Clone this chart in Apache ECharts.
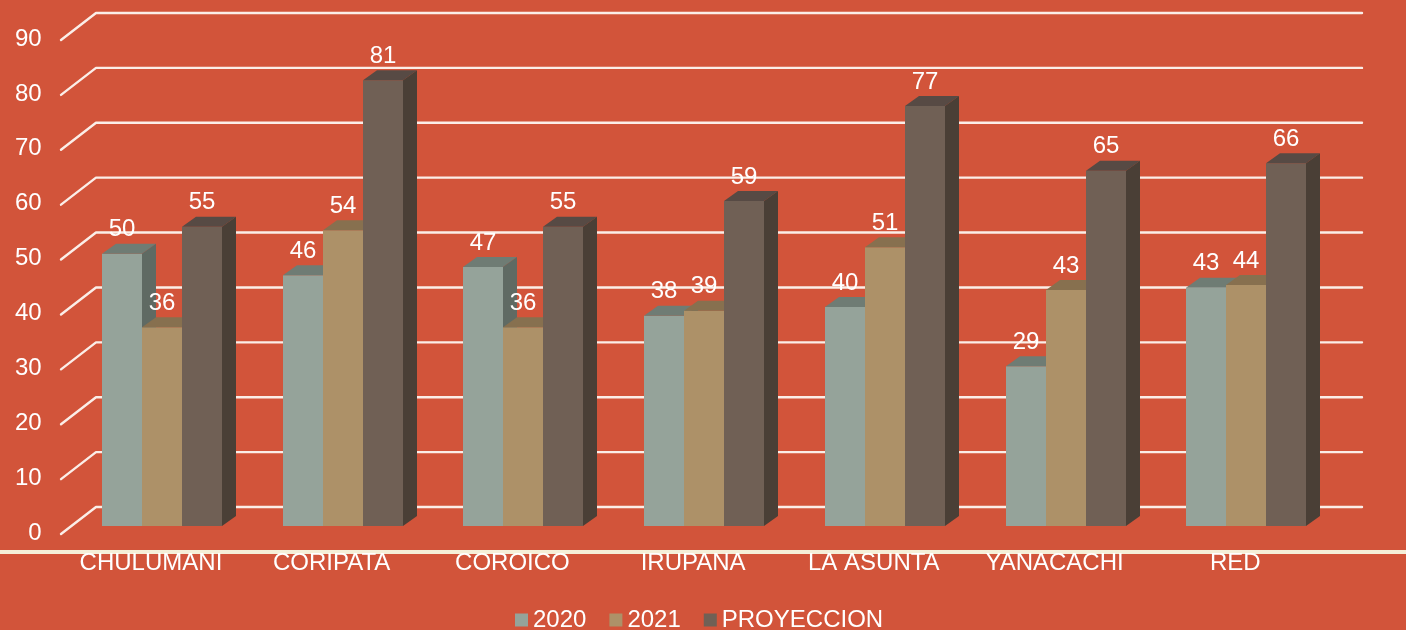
<!DOCTYPE html>
<html>
<head>
<meta charset="utf-8">
<style>
  html, body { margin: 0; padding: 0; background: #d2543a; }
  #main { width: 1406px; height: 630px; }
</style>
<script src="https://cdn.jsdelivr.net/npm/echarts@6/dist/echarts.min.js"></script>
</head>
<body>
<div id="main"></div>
<script>
const categories = ["CHULUMANI", "CORIPATA", "COROICO", "IRUPANA", "LA ASUNTA", "YANACACHI", "RED"];
const values2020 = [49.6, 45.7, 47.2, 38.3, 39.9, 29.1, 43.4];
const values2021 = [36.2, 53.9, 36.2, 39.2, 50.8, 43.0, 43.9];
const valuesProy = [54.5, 81.2, 54.5, 59.2, 76.5, 64.7, 66.1];
const yTicks = [0, 10, 20, 30, 40, 50, 60, 70, 80, 90];

const FONT = "'Liberation Sans', Arial, sans-serif";
const DEPTH_X = 14; // profundidad de las barras
const DEPTH_Y = 10;
const BAR_RATIO = 40 / 180.7;

// piso y paredes: linea diagonal + linea horizontal de cada tick
function renderGridLine(params, api) {
  const rect = params.coordSys;
  const y = api.coord([0, api.value(0)])[1];
  return {
    type: "polyline",
    shape: {
      points: [
        [rect.x - 10.6, y + 8],
        [rect.x + 24.4, y - 19],
        [rect.x + rect.width + 25.4, y - 19],
      ],
    },
    style: { stroke: "#fbeee8", lineWidth: 2.4, fill: null, lineCap: "round", lineJoin: "round" },
    silent: true,
  };
}

function makeBarRender(index, colors) {
  return function (params, api) {
    const cat = api.value(0);
    const val = api.value(1);
    const top = api.coord([cat, val]);
    const base = api.coord([cat, 0]);
    const band = api.size([1, 0])[0] * BAR_RATIO;
    // redondeado para que no queden costuras entre barras vecinas
    const x = Math.round(top[0] + (index - 1.5) * band);
    const w = Math.round(top[0] + (index - 0.5) * band) - x;
    const y = top[1];
    return {
      type: "group",
      children: [
        {
          type: "rect",
          shape: { x: x, y: y, width: w, height: base[1] - y },
          style: { fill: colors.front },
        },
        {
          type: "polygon",
          shape: {
            points: [
              [x, y],
              [x + DEPTH_X, y - DEPTH_Y],
              [x + w + DEPTH_X, y - DEPTH_Y],
              [x + w, y],
            ],
          },
          style: { fill: colors.top },
        },
        {
          type: "polygon",
          shape: {
            points: [
              [x + w, y],
              [x + w + DEPTH_X, y - DEPTH_Y],
              [x + w + DEPTH_X, base[1] - DEPTH_Y],
              [x + w, base[1]],
            ],
          },
          style: { fill: colors.side },
        },
        {
          type: "text",
          z2: 50,
          style: {
            x: x + w / 2,
            y: y - 24,
            text: String(Math.round(val)),
            fill: "#ffffff",
            font: "24px " + FONT,
            align: "center",
            verticalAlign: "middle",
          },
        },
      ],
    };
  };
}

function barSeries(name, values, index, colors) {
  return {
    name: name,
    type: "custom",
    renderItem: makeBarRender(index, colors),
    encode: { x: 0, y: 1 },
    data: values.map(function (v, i) {
      return [i, v];
    }),
    itemStyle: { color: colors.front },
    z: 3 + index,
  };
}

const chart = echarts.init(document.getElementById("main"));
chart.setOption({
  animation: false,
  backgroundColor: "#d2543a",
  grid: { left: 71.6, top: 32, width: 1265, height: 494 },
  legend: {
    data: ["2020", "2021", "PROYECCION"],
    left: 515,
    top: 608,
    padding: 0,
    icon: "rect",
    itemWidth: 13,
    itemHeight: 13,
    itemGap: 23,
    textStyle: { color: "#ffffff", fontSize: 24, fontFamily: FONT },
  },
  xAxis: {
    type: "category",
    data: categories,
    axisLine: { show: false },
    axisTick: { show: false },
    axisLabel: {
      color: "#ffffff",
      fontSize: 24,
      fontFamily: FONT,
      margin: 25,
      interval: 0,
      padding: [0, 22, 0, 0],
    },
  },
  yAxis: {
    type: "value",
    min: 0,
    max: 90,
    interval: 10,
    splitLine: { show: false },
    axisLine: { show: false },
    axisTick: { show: false },
    axisLabel: {
      color: "#ffffff",
      fontSize: 24,
      fontFamily: FONT,
      margin: 30,
      verticalAlign: "top",
      lineHeight: 14,
    },
  },
  graphic: [
    {
      type: "rect",
      shape: { x: 0, y: 550, width: 1406, height: 4 },
      style: { fill: "#f5efd8" },
      silent: true,
    },
  ],
  series: [
    {
      name: "grid",
      type: "custom",
      renderItem: renderGridLine,
      encode: { y: 0 },
      data: yTicks.map(function (t) {
        return [t];
      }),
      z: 1,
      silent: true,
    },
    barSeries("2020", values2020, 0, { front: "#95a39a", top: "#6f7c74", side: "#5f6a63" }),
    barSeries("2021", values2021, 1, { front: "#ad9168", top: "#87704f", side: "#705d42" }),
    barSeries("PROYECCION", valuesProy, 2, { front: "#706055", top: "#574a44", side: "#4a3f36" }),
  ],
});
</script>
</body>
</html>
